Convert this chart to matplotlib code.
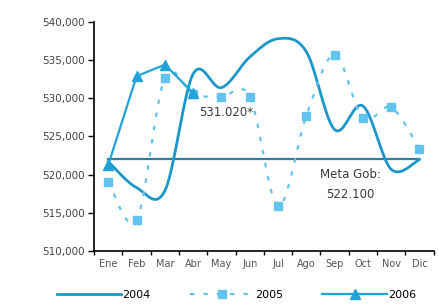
import matplotlib
matplotlib.use("Agg")
import matplotlib.pyplot as plt
import matplotlib.ticker as mticker
import numpy as np

months = ['Ene', 'Feb', 'Mar', 'Abr', 'May', 'Jun', 'Jul', 'Ago', 'Sep', 'Oct', 'Nov', 'Dic']
v2004 = [521700, 518300, 517900, 533200, 531400, 535400, 537800, 536100, 525900, 529000, 520700, 522000]
v2005 = [519100, 514100, 532700, 530500, 530200, 530200, 515900, 527700, 535700, 527400, 528800, 523400]
v2006 = [521300, 532900, 534400, 530700]
meta = 522100
yticks = [510000, 515000, 520000, 525000, 530000, 535000, 540000]


def smooth(xs, ys, n=20):
    # Catmull-Rom spline, close to Excel's "smoothed line"
    p = np.column_stack([xs, ys]).astype(float)
    p = np.vstack([p[0], p, p[-1]])
    out = []
    t = np.linspace(0, 1, n, endpoint=False)[:, None]
    for i in range(1, len(p) - 2):
        p0, p1, p2, p3 = p[i - 1], p[i], p[i + 1], p[i + 2]
        seg = 0.5 * ((2 * p1) + (-p0 + p2) * t + (2 * p0 - 5 * p1 + 4 * p2 - p3) * t ** 2
                     + (-p0 + 3 * p1 - 3 * p2 + p3) * t ** 3)
        out.append(seg)
    out.append(p[-2][None, :])
    out = np.vstack(out)
    return out[:, 0], out[:, 1]


c04 = '#1a98cb'
c05 = '#62c4ee'
c06 = '#1fa3da'
cmeta = '#2f7f98'
txt = '#3a3a3a'

fig = plt.figure(figsize=(4.38, 3.04), dpi=100)
ax = fig.add_axes([0.215, 0.174, 0.775, 0.754])

x = np.arange(len(months))

ax.plot([0, 11], [meta, meta], color=cmeta, lw=1.6, zorder=2)

sx, sy = smooth(x, v2004)
ax.plot(sx, sy, color=c04, lw=2.0, zorder=3)

sx, sy = smooth(x, v2005)
ax.plot(sx, sy, color=c05, lw=1.6, dashes=(2, 4), zorder=3)
ax.plot(x, v2005, ls='none', marker='s', ms=6, color=c05, zorder=4)

x6 = np.arange(len(v2006))
ax.plot(x6, v2006, color=c06, lw=1.6, marker='^', ms=7, zorder=5)

ax.text(4.15, 528100, '531.020*', ha='center', va='center', fontsize=8.5, color=txt)
ax.text(8.55, 520000, 'Meta Gob:', ha='center', va='center', fontsize=8.5, color=txt)
ax.text(8.55, 517400, '522.100', ha='center', va='center', fontsize=8.5, color=txt)

ax.set_xlim(-0.5, 11.5)
ax.set_ylim(510000, 540000)
ax.set_yticks(yticks)
ax.yaxis.set_major_formatter(mticker.FuncFormatter(lambda v, p: f'{int(v):,}'))
ax.set_xticks(x)
ax.set_xticklabels(months)
ax.set_xticks(np.arange(-0.5, 12, 1), minor=True)
ax.tick_params(axis='x', which='major', length=0, pad=6, labelsize=7, labelcolor='#555555')
ax.tick_params(axis='x', which='minor', length=3, width=1, direction='out')
ax.tick_params(axis='y', length=4, width=1, pad=3, labelsize=7.5, labelcolor='#444444')
for s in ['top', 'right']:
    ax.spines[s].set_visible(False)
for s in ['left', 'bottom']:
    ax.spines[s].set_linewidth(1.2)

h04, = ax.plot([], [], color=c04, lw=2.0)
h05, = ax.plot([], [], color=c05, lw=1.6, dashes=(2, 4), marker='s', ms=6)
h06, = ax.plot([], [], color=c06, lw=1.6, marker='^', ms=7)
fig.legend([h04, h05, h06], ['2004', '2005', '2006'], loc='lower center',
           bbox_to_anchor=(0.54, -0.02), ncol=3, frameon=False, fontsize=8,
           handlelength=5.8, handletextpad=0.1, columnspacing=3.5)

plt.savefig('out.png', dpi=100)
